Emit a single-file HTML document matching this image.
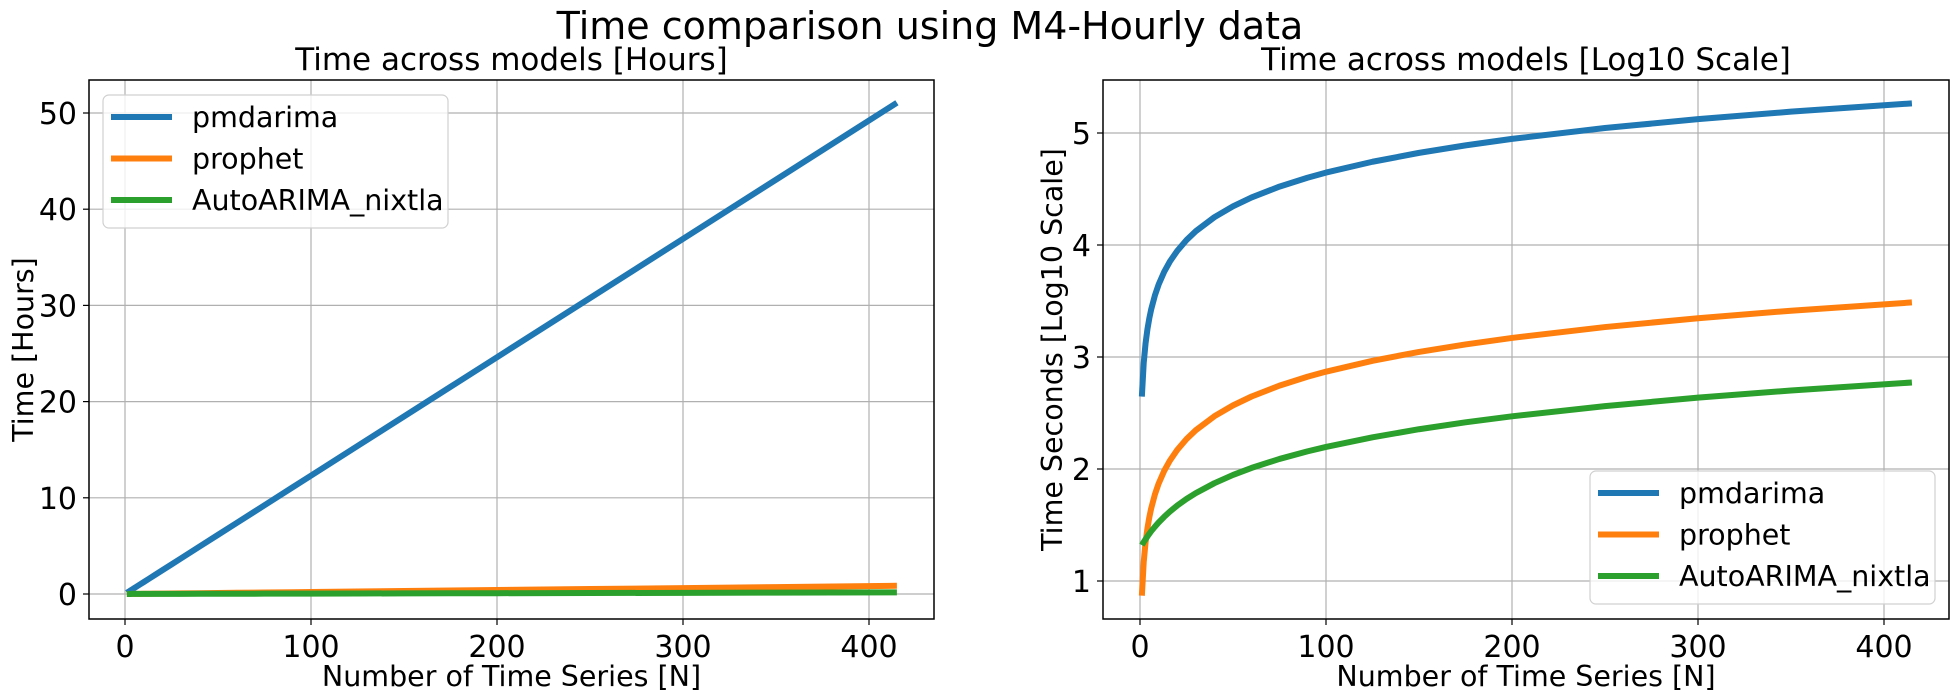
<!DOCTYPE html>
<html><head><meta charset="utf-8"><style>
body{margin:0;background:#fff}
svg{display:block;font-family:"DejaVu Sans","Liberation Sans",sans-serif}
</style></head><body>
<svg id="fig" width="1958" height="700" viewBox="0 0 1958 700">
<rect width="1958" height="700" fill="#fff"/>
<text x="930" y="39" font-size="38" text-anchor="middle">Time comparison using M4-Hourly data</text>
<g id="left"></g>
<g id="right"></g>
</svg>
<script>
const nValues = [1,2,3,4,5,6,8,10,13,16,20,25,30,40,50,60,75,90,100,125,150,175,200,250,300,350,415];
const pmdarimaSec = [443,886,1329,1772,2215,2658,3544,4430,5759,7088,8860,11075,13290,17720,22150,26580,33225,39870,44300,55375,66450,77525,88600,110750,132900,155050,183845];
const prophetSec = [7.4,14.8,22.2,29.6,37,44.4,59.2,74,96.2,118.4,148,185,222,296,370,444,555,666,740,925,1110,1295,1480,1850,2220,2590,3071];
const nixtlaSec = [20.9,22.3,23.6,25.0,26.4,27.8,30.5,33.3,37.4,41.6,47.1,54.0,60.9,74.7,88.5,102.3,123,143.7,157.5,192,226.5,261,295.5,364.5,433.5,502.5,592.2];
const seriesNames = ["pmdarima","prophet","AutoARIMA_nixtla"];
const colors = ["#1f77b4","#ff7f0e","#2ca02c"];
const xTicks = [0,100,200,300,400];
const leftYTicks = [0,10,20,30,40,50];
const rightYTicks = [1,2,3,4,5];

const NS="http://www.w3.org/2000/svg";
function mk(parent,tag,attrs,text){const e=document.createElementNS(NS,tag);for(const k in attrs)e.setAttribute(k,attrs[k]);if(text!==undefined)e.textContent=text;parent.appendChild(e);return e;}

function drawPanel(g,cfg){
  const {x0,x1,y0,y1,xs,ys,yTicks,ySeries,title,yLabel,ylx,legend}=cfg;
  xTicks.forEach(t=>{const x=xs(t);
    const l=mk(g,'line',{x1:x,x2:x,y1:y0,y2:y1,stroke:'#b0b0b0','stroke-width':1.2});
    
    
    mk(g,'line',{x1:x,x2:x,y1:y1,y2:y1+6,stroke:'#000','stroke-width':1.2});
    const tx=mk(g,'text',{x:x,y:y1+38,'font-size':30,'text-anchor':'middle'},t);
    
    
  });
  yTicks.forEach(t=>{const y=ys(t);
    const l=mk(g,'line',{x1:x0,x2:x1,y1:y,y2:y,stroke:'#b0b0b0','stroke-width':1.2});
    
    
    mk(g,'line',{x1:x0-6,x2:x0,y1:y,y2:y,stroke:'#000','stroke-width':1.2});
    const tx=mk(g,'text',{x:x0-12,y:y+11,'font-size':30,'text-anchor':'end'},t);
    
    
  });
  ySeries.forEach((vals,i)=>{
    const pts=nValues.map((n,j)=>xs(n).toFixed(2)+','+ys(vals[j]).toFixed(2)).join(' ');
    const p=mk(g,'polyline',{points:pts,fill:'none',stroke:colors[i],'stroke-width':6,'stroke-linejoin':'round'});
    
    
  });
  const fr=mk(g,'rect',{x:x0,y:y0,width:x1-x0,height:y1-y0,fill:'none',stroke:'#000','stroke-width':1.5});
  
  
  const tt=mk(g,'text',{x:(x0+x1)/2,y:y0-10,'font-size':31,'text-anchor':'middle'},title);
  
  
  const xl=mk(g,'text',{x:(x0+x1)/2,y:686,'font-size':28.5,'text-anchor':'middle'},'Number of Time Series [N]');
  
  
  const yl=mk(g,'text',{x:0,y:0,'font-size':28.5,'text-anchor':'middle',transform:`translate(${ylx},${(y0+y1)/2}) rotate(-90)`},yLabel);
  
  
  const lg=mk(g,'g',{});
  
  
  mk(lg,'rect',{x:legend.x,y:legend.y,width:legend.w,height:133,rx:6,fill:'#fff','fill-opacity':0.8,stroke:'#d0d0d0','stroke-width':1.2});
  seriesNames.forEach((nm,i)=>{
    const y=legend.y+22+i*41.5;
    const e=mk(lg,'g',{});
    
    
    mk(e,'line',{x1:legend.x+8,x2:legend.x+69,y1:y,y2:y,stroke:colors[i],'stroke-width':6});
    mk(e,'text',{x:legend.x+89,y:y+10,'font-size':28.5},nm);
  });
}
const toH=s=>s/3600;
drawPanel(document.getElementById('left'),{
  x0:89,x1:934,y0:80,y1:619,
  xs:n=>125+n*1.86, ys:v=>594-v*9.62, yTicks:leftYTicks,
  ySeries:[pmdarimaSec.map(toH),prophetSec.map(toH),nixtlaSec.map(toH)],
  title:'Time across models [Hours]', yLabel:'Time [Hours]', ylx:33,
  legend:{x:103,y:95,w:345}
});
drawPanel(document.getElementById('right'),{
  x0:1103,x1:1949,y0:80,y1:619,
  xs:n=>1140+n*1.86, ys:v=>581-(v-1)*112, yTicks:rightYTicks,
  ySeries:[pmdarimaSec.map(Math.log10),prophetSec.map(Math.log10),nixtlaSec.map(Math.log10)],
  title:'Time across models [Log10 Scale]', yLabel:'Time Seconds [Log10 Scale]', ylx:1062,
  legend:{x:1590,y:471,w:345}
});
</script>
</body></html>
